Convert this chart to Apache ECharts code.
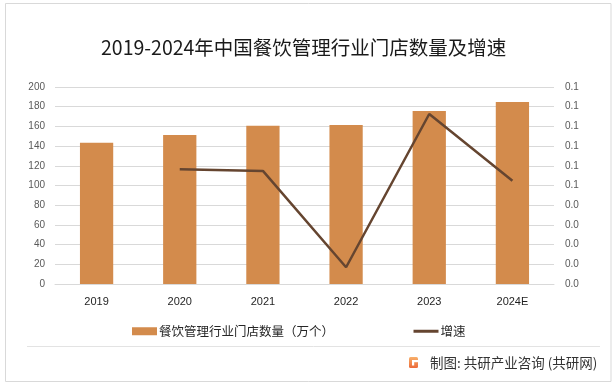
<!DOCTYPE html>
<html>
<head>
<meta charset="utf-8">
<script src="https://cdn.jsdelivr.net/npm/echarts@6/dist/echarts.min.js"></script>
<style>
html,body{margin:0;padding:0;background:#fff;}
#chart{width:616px;height:386px;}
</style>
</head>
<body>
<div id="chart"></div>
<script>
var categories = ['2019', '2020', '2021', '2022', '2023', '2024E'];
var storeCounts = [143.4, 151.3, 160.7, 161.4, 175.6, 184.8];
var growthRates = [null, 0.0582, 0.0574, 0.0085, 0.0863, 0.0524];
var barName = '餐饮管理行业门店数量（万个）';
var lineName = '增速';
var titleText = '2019-2024年中国餐饮管理行业门店数量及增速';
var footerText = '制图: 共研产业咨询 (共研网)';

var chart = echarts.init(document.getElementById('chart'), null, {renderer: 'canvas'});
var cjk = '"Noto Sans CJK SC", "Noto Sans", sans-serif';
var num = '"Liberation Sans", "Noto Sans CJK SC", sans-serif';

var option = {
  backgroundColor: '#ffffff',
  animation: false,
  title: {
    text: titleText,
    left: 96,
    top: 33,
    textStyle: {fontFamily: cjk, fontSize: 19.5, fontWeight: 'normal', color: '#1a1a1a'}
  },
  legend: {
    left: 127,
    top: 320,
    itemWidth: 25,
    itemHeight: 8,
    itemGap: 78,
    textStyle: {fontFamily: cjk, fontSize: 12.5, color: '#262626', padding: [0, 0, 0, -3]},
    data: [
      {name: barName, icon: 'rect'},
      {name: lineName, itemStyle: {opacity: 0, borderWidth: 0}, lineStyle: {color: '#654530', width: 3}}
    ]
  },
  grid: {left: 55, right: 62, top: 87, bottom: 102, containLabel: false},
  xAxis: {
    type: 'category',
    data: categories,
    axisLine: {lineStyle: {color: '#d9d9d9', width: 1}},
    axisTick: {show: false},
    axisLabel: {fontFamily: num, fontSize: 11, color: '#1f1f1f', margin: 12}
  },
  yAxis: [
    {
      type: 'value', min: 0, max: 200, interval: 20,
      axisLine: {show: false}, axisTick: {show: false},
      splitLine: {lineStyle: {color: '#d9d9d9', width: 1}},
      axisLabel: {fontFamily: num, fontSize: 10, color: '#595959', margin: 10}
    },
    {
      type: 'value', min: 0, max: 0.1, interval: 0.01,
      axisLine: {show: false}, axisTick: {show: false},
      splitLine: {show: false},
      axisLabel: {
        fontFamily: num, fontSize: 10, color: '#595959', margin: 11,
        formatter: function (v) { return (Math.round(v * 10 + 1e-9) / 10).toFixed(1); }
      }
    }
  ],
  series: [
    {
      name: barName,
      type: 'bar',
      data: storeCounts,
      barWidth: '40%',
      itemStyle: {color: '#d38b4c'},
      yAxisIndex: 0
    },
    {
      name: lineName,
      type: 'line',
      yAxisIndex: 1,
      data: growthRates,
      symbol: 'none',
      connectNulls: false,
      lineStyle: {color: '#654530', width: 2.5},
      itemStyle: {color: '#654530'}
    }
  ],
  graphic: [
    {type: 'rect', shape: {x: 5.5, y: 3.5, width: 605.5, height: 378}, style: {fill: 'none', stroke: '#d9d9d9', lineWidth: 1}, silent: true, z: 0},
    {type: 'line', shape: {x1: 27, y1: 346.5, x2: 600, y2: 346.5}, style: {stroke: '#e3e3e3', lineWidth: 1}, silent: true},
    {type: 'rect', shape: {x: 409, y: 357, width: 9, height: 11, r: 1.5},
      style: {fill: new echarts.graphic.LinearGradient(0, 0, 0, 1, [{offset: 0, color: '#f8b06a'}, {offset: 1, color: '#ec6a3a'}])}, silent: true},
    {type: 'rect', shape: {x: 412, y: 360, width: 6, height: 2.2}, style: {fill: '#ffffff'}, silent: true},
    {type: 'rect', shape: {x: 412, y: 362, width: 2.2, height: 3.5}, style: {fill: '#ffffff'}, silent: true},
    {type: 'text', x: 430, y: 363, style: {text: footerText, fontFamily: cjk, fontSize: 13.5, fill: '#333333', textVerticalAlign: 'middle', verticalAlign: 'middle'}, silent: true}
  ]
};
chart.setOption(option);
</script>
</body>
</html>
